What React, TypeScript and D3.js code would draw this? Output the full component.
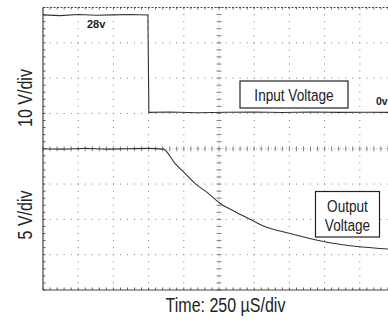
import React from "react";
import * as d3 from "d3";

const W = 388;
const H = 322;

// time axis: 250 µs/div, 10 divisions
const timeDomain = [0, 2500];
// vertical grid: 8 divisions
const divCount = 8;
const timeDivs = 10;

// Input voltage trace (V, 10 V/div)
const inputTime = [0, 120, 250, 380, 500, 620, 745, 752, 900, 1100, 1300, 1500, 1700, 1900, 2100, 2300, 2500];
const inputVolt = [27.6, 27.4, 27.7, 27.5, 27.6, 27.7, 27.6, 0, 0.1, -0.1, 0.05, 0.1, -0.05, 0.1, 0, 0.05, 0];

// Output voltage trace (V, 5 V/div)
const outputTime = [0, 150, 300, 450, 600, 750, 854, 937, 1008, 1079, 1174, 1257, 1364, 1482, 1565, 1740, 2001, 2249, 2450, 2500];
const outputVolt = [20.0, 19.95, 20.05, 19.95, 20.0, 20.05, 19.95, 17.94, 16.52, 15.11, 13.69, 12.28, 11.09, 9.91, 9.06, 8.07, 6.84, 6.13, 5.81, 5.75];

const FONT = "'Liberation Sans', Arial, sans-serif";
const SQ = 0.8; // horizontal condensing factor

function NText(props: { x: number; y: number; size: number; children: string; rotate?: boolean }) {
  const { x, y, size, children, rotate } = props;
  const t = rotate
    ? `translate(${x},${y}) rotate(-90) scale(${SQ},1)`
    : `translate(${x},${y}) scale(${SQ},1)`;
  return (
    <text transform={t} textAnchor="middle" fontFamily={FONT} fontSize={size} fill="#222">
      {children}
    </text>
  );
}

export default function App() {
  const left = 43;
  const right = 395;
  const top = 7.5;
  const bottom = 290;

  const x = d3.scaleLinear().domain(timeDomain).range([left, right]);
  const yDiv = d3.scaleLinear().domain([0, divCount]).range([bottom, top]);
  const inZero = 5.03;
  const yIn = (v: number) => yDiv(inZero + v / 10);
  const yOut = (v: number) => yDiv(v / 5);

  const inLine = d3.line<number>().x((_, i) => x(inputTime[i])).y((d) => yIn(d));
  const outLine = d3.line<number>().x((_, i) => x(outputTime[i])).y((d) => yOut(d)).curve(d3.curveMonotoneX);

  const divW = (right - left) / timeDivs;
  const divH = (bottom - top) / divCount;
  const minorW = divW / 5;
  const minorH = divH / 5;

  const gridColor = "#7a7a7a";
  const axisColor = "#444";

  const vLines = d3.range(1, timeDivs).map((i) => left + i * divW);
  const hLines = d3.range(1, divCount).map((i) => top + i * divH);
  const cx = left + 5 * divW;
  const cy = top + 4 * divH;

  const minorX = d3.range(0, timeDivs * 5 + 1).map((i) => left + i * minorW);
  const minorY = d3.range(0, divCount * 5 + 1).map((i) => top + i * minorH);

  return (
    <div style={{ position: "fixed", left: 0, top: 0, width: W, height: H, background: "#fff" }}>
      <svg width={W} height={H} viewBox={`0 0 ${W} ${H}`} style={{ display: "block" }}>
        <rect x={0} y={0} width={W} height={H} fill="#fff" />
        {vLines.map((vx, i) => (
          <line key={"v" + i} x1={vx} x2={vx} y1={top} y2={bottom} stroke={gridColor} strokeWidth={1}
            strokeDasharray={`1 ${minorH - 1}`} strokeDashoffset={0.5} />
        ))}
        {hLines.map((hy, i) => (
          <line key={"h" + i} x1={left} x2={right} y1={hy} y2={hy} stroke={gridColor} strokeWidth={1}
            strokeDasharray={`1 ${minorW - 1}`} strokeDashoffset={0.5} />
        ))}
        <line x1={cx} x2={cx} y1={top} y2={bottom} stroke="#aaa" strokeWidth={0.8} strokeDasharray="1 2" />
        <line x1={left} x2={right} y1={cy} y2={cy} stroke="#aaa" strokeWidth={0.8} strokeDasharray="1 2" />
        {minorY.map((my, i) => (
          <line key={"cyt" + i} x1={cx - 2.5} x2={cx + 2.5} y1={my} y2={my} stroke={gridColor} strokeWidth={0.9} />
        ))}
        {minorX.map((mx, i) => (
          <line key={"cxt" + i} x1={mx} x2={mx} y1={cy - 2.5} y2={cy + 2.5} stroke={gridColor} strokeWidth={0.9} />
        ))}
        <line x1={left} x2={left} y1={top} y2={bottom} stroke={axisColor} strokeWidth={1.2} />
        <line x1={left} x2={right} y1={bottom} y2={bottom} stroke={axisColor} strokeWidth={1.2} />
        <line x1={left} x2={right} y1={top} y2={top} stroke={axisColor} strokeWidth={1} strokeDasharray="2 1.5" />
        {minorY.map((my, i) => (
          <line key={"lt" + i} x1={left} x2={left + 2.5} y1={my} y2={my} stroke={axisColor} strokeWidth={0.9} />
        ))}
        {minorX.map((mx, i) => (
          <line key={"bt" + i} x1={mx} x2={mx} y1={bottom - 2.5} y2={bottom} stroke={axisColor} strokeWidth={0.9} />
        ))}
        {minorX.map((mx, i) => (
          <line key={"tt" + i} x1={mx} x2={mx} y1={top} y2={top + 2} stroke={axisColor} strokeWidth={0.8} />
        ))}
        <path d={inLine(inputVolt) || ""} fill="none" stroke="#333" strokeWidth={1.1} />
        <path d={outLine(outputVolt) || ""} fill="none" stroke="#333" strokeWidth={1.1} />
        <text x={87} y={28} fontFamily={FONT} fontSize={11} fontWeight="bold" fill="#222">28v</text>
        <text x={376} y={105} fontFamily={FONT} fontSize={10.5} fontWeight="bold" fill="#222">0v</text>
        <rect x={240} y={81} width={108} height={27} fill="#fff" stroke="#222" strokeWidth={1.2} />
        <NText x={294} y={100.5} size={17}>Input Voltage</NText>
        <rect x={315.5} y={191.5} width={64} height={45.5} fill="#fff" stroke="#222" strokeWidth={1.2} />
        <NText x={347.5} y={211.5} size={17}>Output</NText>
        <NText x={347.5} y={231} size={17}>Voltage</NText>
        <NText x={32} y={98} size={20} rotate>10 V/div</NText>
        <NText x={32} y={215} size={20} rotate>5 V/div</NText>
        <NText x={225.5} y={312.3} size={20}>Time: 250 µS/div</NText>
      </svg>
    </div>
  );
}
